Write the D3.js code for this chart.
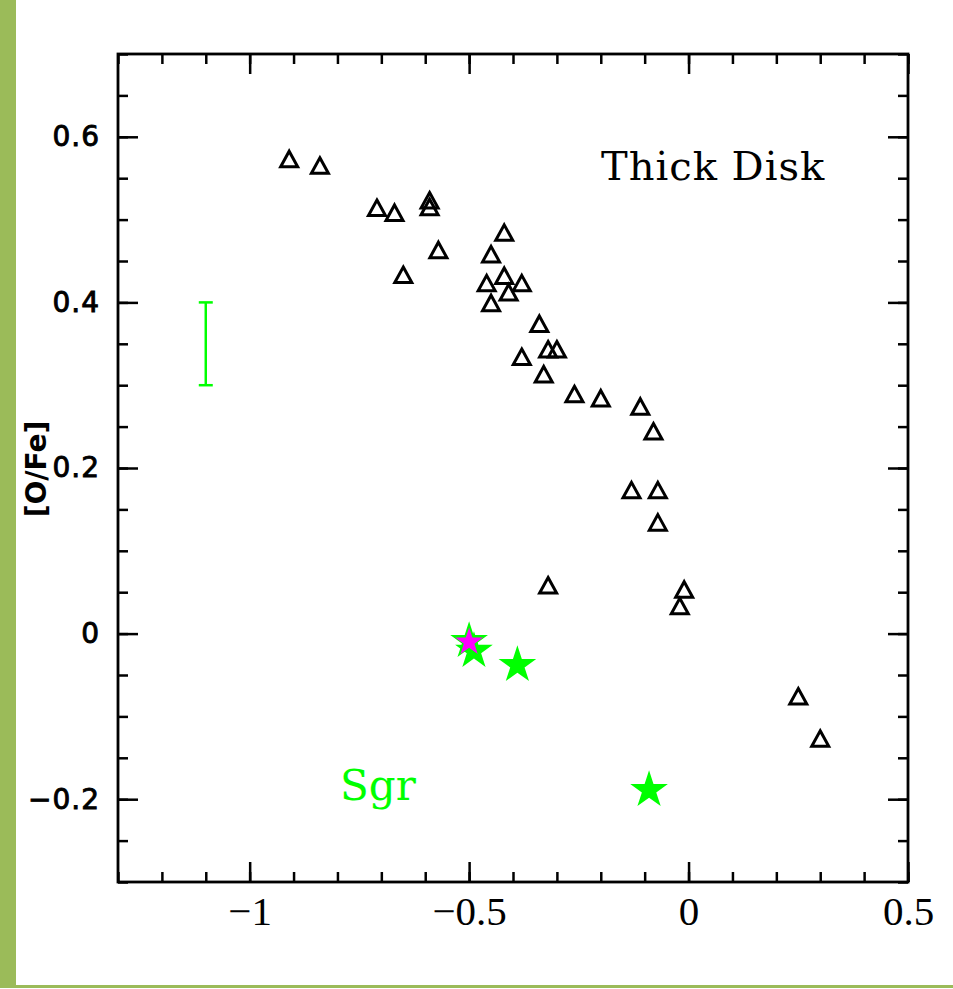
<!DOCTYPE html>
<html>
<head>
<meta charset="utf-8">
<script src="https://cdn.jsdelivr.net/npm/d3@7"></script>
<style>
  body { margin: 0; background: #fff; }
  svg { display: block; }
  .tick line { stroke: #000; stroke-width: 2.5; }
  .domain { display: none; }
</style>
</head>
<body>
<div id="container"></div>
<script>
// thick disk stars: [Fe/H] and [O/Fe]
var diskFeH = [-0.91, -0.84, -0.71, -0.67, -0.59, -0.59, -0.65, -0.57, -0.42, -0.45, -0.46,
  -0.42, -0.41, -0.38, -0.45, -0.34, -0.32, -0.30, -0.38, -0.33, -0.26, -0.20, -0.11,
  -0.08, -0.13, -0.07, -0.07, -0.32, -0.01, -0.02, 0.25, 0.30];
var diskOFe = [0.573, 0.565, 0.514, 0.508, 0.523, 0.515, 0.433, 0.463, 0.484, 0.458, 0.423,
  0.432, 0.412, 0.423, 0.399, 0.374, 0.343, 0.343, 0.334, 0.313, 0.289, 0.284, 0.274,
  0.244, 0.173, 0.173, 0.134, 0.058, 0.053, 0.033, -0.076, -0.127];

// Sgr stars
var sgrFeH = [-0.489, -0.50, -0.39, -0.09];
var sgrOFe = [-0.021, -0.009, -0.038, -0.189];
// the one highlighted star (magenta)
var hiFeH = [-0.50];
var hiOFe = [-0.009];

// typical error bar
var errX = -1.1, errLow = 0.3, errHigh = 0.4;

var xTickLabels = [-1, -0.5, 0, 0.5];
var yTickLabels = [-0.2, 0, 0.2, 0.4, 0.6];

var W = 953, H = 989;
var svg = d3.select('#container').append('svg')
  .attr('xmlns', 'http://www.w3.org/2000/svg')
  .attr('width', W)
  .attr('height', H);

// page decoration: green strip on the left and a line at the bottom
svg.append('rect').attr('x', 0).attr('y', 0).attr('width', 16).attr('height', 987).attr('fill', '#9bbb59');
svg.append('rect').attr('x', 0).attr('y', 985).attr('width', W).attr('height', 3).attr('fill', '#9bbb59');

var x = d3.scaleLinear().domain([-1.3, 0.5]).range([118, 908]);
var y = d3.scaleLinear().domain([-0.3, 0.7]).range([882, 54]);

var xMinor = x.ticks(18);
var yMinor = y.ticks(20);

var addAxis = function(axis, tx, ty) {
  return svg.append('g')
    .attr('transform', 'translate(' + tx + ',' + ty + ')')
    .call(axis);
};

// minor ticks, all four sides
addAxis(d3.axisBottom(x).tickValues(xMinor).tickSize(-10).tickSizeOuter(0).tickFormat(''), 0, 882);
addAxis(d3.axisTop(x).tickValues(xMinor).tickSize(-10).tickSizeOuter(0).tickFormat(''), 0, 54);
addAxis(d3.axisLeft(y).tickValues(yMinor).tickSize(-10).tickSizeOuter(0).tickFormat(''), 118, 0);
addAxis(d3.axisRight(y).tickValues(yMinor).tickSize(-10).tickSizeOuter(0).tickFormat(''), 908, 0);

// major ticks
var xAxis = addAxis(d3.axisBottom(x).tickValues(xTickLabels).tickSize(-20).tickSizeOuter(0)
  .tickPadding(14).tickFormat(d3.format('')), 0, 882);
xAxis.selectAll('text')
  .attr('fill', '#000')
  .style('font-family', '"Liberation Serif", serif')
  .style('font-size', '41px');

addAxis(d3.axisTop(x).tickValues(xTickLabels).tickSize(-20).tickSizeOuter(0).tickFormat(''), 0, 54);

var yAxis = addAxis(d3.axisLeft(y).tickValues(yTickLabels).tickSize(-20).tickSizeOuter(0)
  .tickPadding(18).tickFormat(d3.format('')), 118, 0);
yAxis.selectAll('text')
  .attr('fill', '#000')
  .attr('stroke', '#000')
  .attr('stroke-width', 0.9)
  .style('font-family', '"DejaVu Sans", sans-serif')
  .style('font-size', '28px')
  .style('letter-spacing', '1px');

addAxis(d3.axisRight(y).tickValues(yTickLabels).tickSize(-20).tickSizeOuter(0).tickFormat(''), 908, 0);

// frame
svg.append('rect')
  .attr('x', x.range()[0]).attr('y', y.range()[1])
  .attr('width', x.range()[1] - x.range()[0])
  .attr('height', y.range()[0] - y.range()[1])
  .attr('fill', 'none')
  .attr('stroke', '#000')
  .attr('stroke-width', 2.8);

// y axis title
svg.append('text')
  .attr('transform', 'translate(46,469) rotate(-90)')
  .attr('text-anchor', 'middle')
  .attr('fill', '#000')
  .style('font-family', '"DejaVu Sans", sans-serif')
  .style('font-weight', 'bold')
  .style('font-size', '28px')
  .text('[O/Fe]');

// error bar
var eb = svg.append('g')
  .attr('stroke', '#00ff00')
  .attr('stroke-width', 2.5);
eb.append('line')
  .attr('x1', x(errX)).attr('x2', x(errX))
  .attr('y1', y(errLow)).attr('y2', y(errHigh));
[errLow, errHigh].forEach(function(v) {
  eb.append('line')
    .attr('x1', x(errX) - 7).attr('x2', x(errX) + 7)
    .attr('y1', y(v)).attr('y2', y(v));
});

// open triangle marker, centered on its box
var triangle = 'M0,-8L8.5,7.5L-8.5,7.5Z';

svg.selectAll('.disk')
  .data(d3.zip(diskFeH, diskOFe))
  .enter()
  .append('path')
  .attr('class', 'disk')
  .attr('d', triangle)
  .attr('transform', function(d) { return 'translate(' + x(d[0]) + ',' + y(d[1]) + ')'; })
  .attr('fill', 'none')
  .attr('stroke', '#000')
  .attr('stroke-width', 3)
  .attr('stroke-linejoin', 'miter');

var bigStar = d3.symbol().type(d3.symbolStar).size(440);
var smallStar = d3.symbol().type(d3.symbolStar).size(240);

svg.selectAll('.sgr')
  .data(d3.zip(sgrFeH, sgrOFe))
  .enter()
  .append('path')
  .attr('class', 'sgr')
  .attr('d', bigStar)
  .attr('transform', function(d) { return 'translate(' + x(d[0]) + ',' + y(d[1]) + ')'; })
  .attr('fill', '#00ff00');

svg.selectAll('.hi')
  .data(d3.zip(hiFeH, hiOFe))
  .enter()
  .append('path')
  .attr('class', 'hi')
  .attr('d', smallStar)
  .attr('transform', function(d) { return 'translate(' + x(d[0]) + ',' + (y(d[1]) + 1) + ')'; })
  .attr('fill', '#ff00ff');

// labels
svg.append('text')
  .attr('x', 601).attr('y', 180)
  .attr('fill', '#000')
  .style('font-family', '"DejaVu Serif", serif')
  .style('font-size', '40px')
  .style('letter-spacing', '1px')
  .text('Thick Disk');

svg.append('text')
  .attr('x', 340).attr('y', 800)
  .attr('fill', '#00ff00')
  .style('font-family', '"DejaVu Serif", serif')
  .style('font-size', '42px')
  .text('Sgr');
</script>
</body>
</html>
